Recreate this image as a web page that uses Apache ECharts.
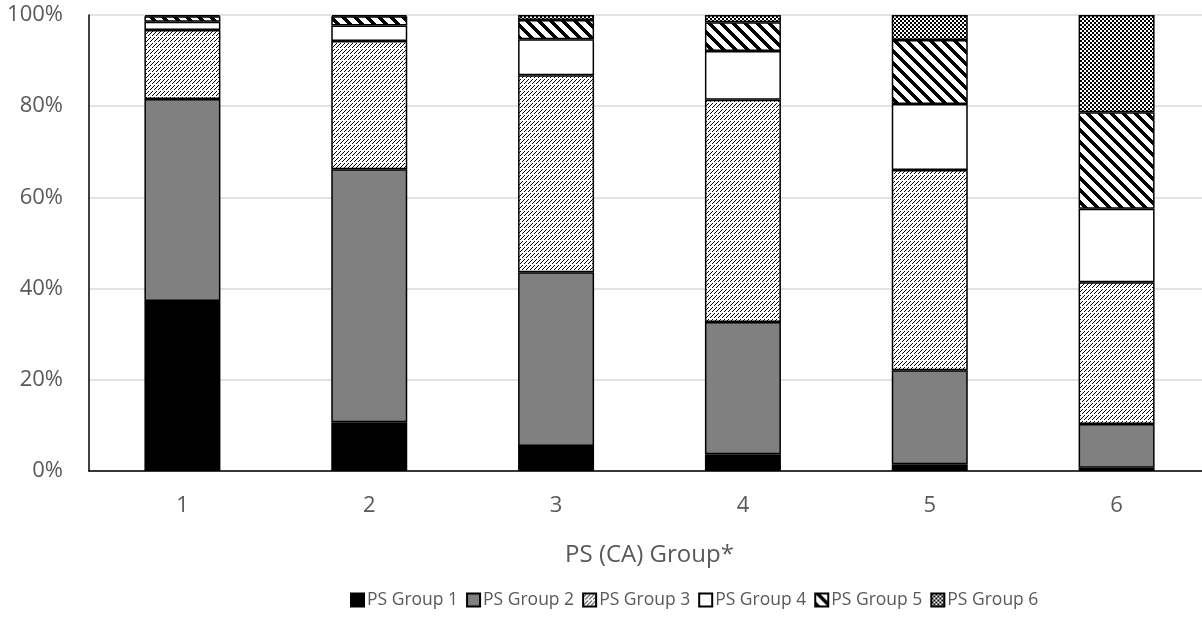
<!DOCTYPE html>
<html>
<head>
<meta charset="utf-8">
<script src="https://cdn.jsdelivr.net/npm/echarts@6/dist/echarts.min.js"></script>
<style>
  html, body { margin: 0; padding: 0; background: #fff; overflow: hidden; }
  #chart { width: 1210px; height: 619px; }
</style>
</head>
<body>
<div id="chart"></div>
<script>
// PS (CA) groups on the x axis, share (%) of each PS group stacked to 100%
var categories = ['1', '2', '3', '4', '5', '6'];
var seriesNames = ['PS Group 1', 'PS Group 2', 'PS Group 3', 'PS Group 4', 'PS Group 5', 'PS Group 6'];
var psGroup1 = [37.3, 10.7, 5.5, 3.7, 1.5, 0.7];
var psGroup2 = [44.3, 55.5, 38.1, 29.0, 20.6, 9.6];
var psGroup3 = [15.1, 28.1, 43.2, 48.7, 43.9, 31.1];
var psGroup4 = [1.8, 3.4, 7.9, 10.7, 14.5, 16.1];
var psGroup5 = [1.2, 2.0, 4.2, 6.3, 14.0, 21.2];
var psGroup6 = [0.3, 0.3, 1.1, 1.6, 5.5, 21.3];
var yTicks = [0, 20, 40, 60, 80, 100];

// Build a repeating fill from a pixel rule
function makePattern(size, isBlack) {
  var c = document.createElement('canvas');
  c.width = size; c.height = size;
  var ctx = c.getContext('2d');
  ctx.fillStyle = '#ffffff';
  ctx.fillRect(0, 0, size, size);
  ctx.fillStyle = '#000000';
  for (var y = 0; y < size; y++) {
    for (var x = 0; x < size; x++) {
      if (isBlack(x, y)) ctx.fillRect(x, y, 1, 1);
    }
  }
  return { image: c, repeat: 'repeat' };
}

// fine dashed upward diagonals
var hatchUp = makePattern(12, function (x, y) {
  return ((x + y) % 4 === 3) && (y % 6 !== 0);
});
// wide downward diagonal stripes
var hatchDown = makePattern(12, function (x, y) {
  var d = ((x - y) % 12 + 12) % 12;
  return d < 5;
});
// small checkerboard
var checker = makePattern(4, function (x, y) {
  return (Math.floor(x / 2) + Math.floor(y / 2)) % 2 === 0;
});

var fills = ['#000000', '#808080', hatchUp, '#ffffff', hatchDown, checker];
var values = [psGroup1, psGroup2, psGroup3, psGroup4, psGroup5, psGroup6];

var textColor = '#595959';
var fontFamily = '"Open Sans", "Noto Sans", sans-serif';

var chart = echarts.init(document.getElementById('chart'), null, { renderer: 'canvas' });

var series = seriesNames.map(function (name, i) {
  return {
    name: name,
    type: 'bar',
    stack: 'total',
    barWidth: 76,
    data: values[i],
    itemStyle: {
      color: fills[i],
      borderColor: '#000000',
      borderWidth: 1.5
    },
    emphasis: { disabled: true }
  };
});

chart.setOption({
  animation: false,
  backgroundColor: '#ffffff',
  grid: { left: 89, top: 15, right: 0, bottom: 148, containLabel: false },
  legend: {
    data: seriesNames,
    bottom: 5,
    left: 345,
    itemWidth: 13,
    itemHeight: 13,
    itemGap: 8,
    icon: 'rect',
    textStyle: { color: textColor, fontSize: 17.5, fontFamily: fontFamily, padding: [0, 0, 0, -2] }
  },
  xAxis: {
    type: 'category',
    data: categories,
    name: 'PS (CA) Group*',
    nameLocation: 'middle',
    nameGap: 72,
    nameTextStyle: { color: textColor, fontSize: 24, fontFamily: fontFamily },
    axisLine: { lineStyle: { color: '#000000', width: 1.5 } },
    axisTick: { show: false },
    axisLabel: { color: textColor, fontSize: 22, fontFamily: fontFamily, margin: 24 }
  },
  yAxis: {
    type: 'value',
    min: yTicks[0],
    max: yTicks[yTicks.length - 1],
    interval: yTicks[1] - yTicks[0],
    axisLine: { show: true, lineStyle: { color: '#000000', width: 1.5 } },
    axisTick: { show: false },
    splitLine: { lineStyle: { color: '#d9d9d9', width: 1.5 } },
    axisLabel: {
      color: textColor, fontSize: 22, fontFamily: fontFamily, margin: 26,
      formatter: function (v) { return v + '%'; }
    }
  },
  series: series
});
</script>
</body>
</html>
